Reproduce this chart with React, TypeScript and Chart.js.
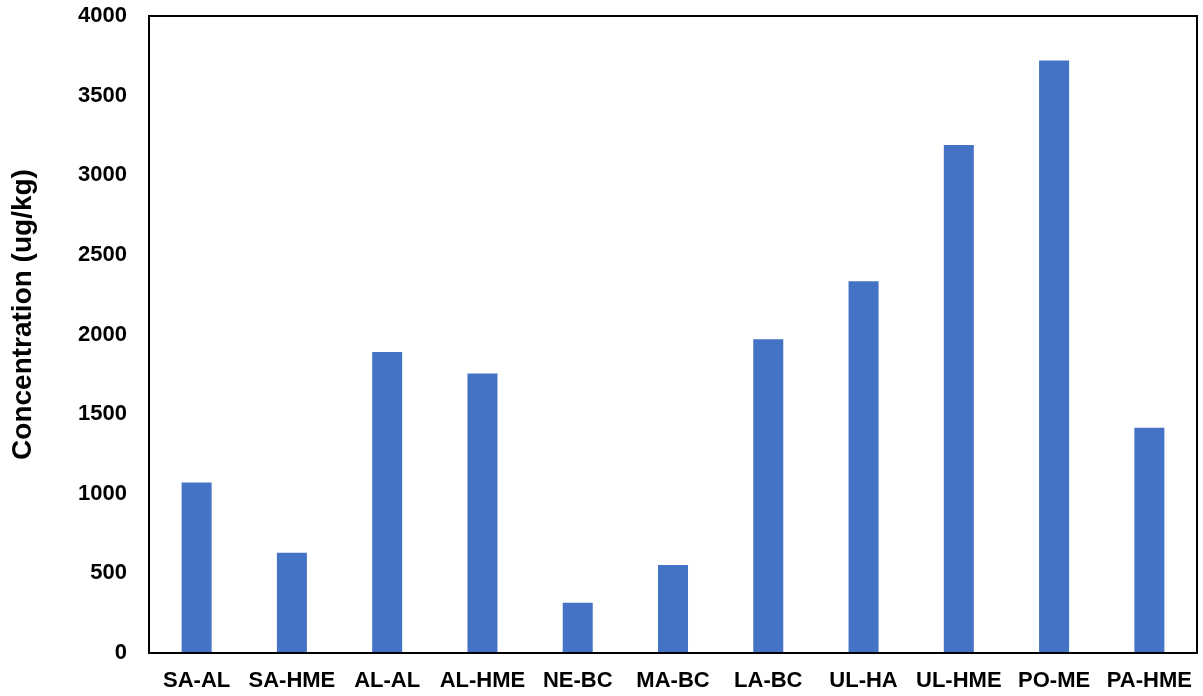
import React, { useEffect, useRef } from "react";
import { Chart, registerables } from "chart.js";

Chart.register(...registerables);

const categories = ["SA-AL", "SA-HME", "AL-AL", "AL-HME", "NE-BC", "MA-BC", "LA-BC", "UL-HA", "UL-HME", "PO-ME", "PA-HME"];
const concentration = [1070, 630, 1890, 1755, 315, 553, 1970, 2335, 3190, 3720, 1415];
const yTitle = "Concentration (ug/kg)";
const FONT = "'Liberation Sans', Arial, sans-serif";

const boxPlugin = {
  id: "box",
  afterDraw(chart: any) {
    const { ctx, chartArea } = chart;
    ctx.save();
    ctx.strokeStyle = "#000";
    ctx.lineWidth = 2;
    ctx.strokeRect(chartArea.left, chartArea.top, chartArea.right - chartArea.left, chartArea.bottom - chartArea.top);
    // y-axis title
    ctx.fillStyle = "#000";
    ctx.font = `bold 28px ${FONT}`;
    ctx.textAlign = "center";
    ctx.textBaseline = "middle";
    ctx.translate(23, chartArea.top + (chartArea.bottom - chartArea.top) / 2 - 20);
    ctx.rotate(-Math.PI / 2);
    ctx.fillText(yTitle, 0, 0);
    ctx.restore();
  },
};

export default function App() {
  const ref = useRef<HTMLCanvasElement>(null);
  useEffect(() => {
    if (!ref.current) return;
    const font = { family: FONT, size: 22, weight: "bold" as const };
    const chart = new Chart(ref.current, {
      type: "bar",
      data: {
        labels: categories,
        datasets: [
          {
            data: concentration,
            backgroundColor: "#4472C4",
            barPercentage: 0.315,
            categoryPercentage: 1,
          },
        ],
      },
      options: {
        animation: false,
        responsive: false,
        maintainAspectRatio: false,
        layout: { padding: { top: 16, right: 6, left: 0, bottom: 0 } },
        plugins: { legend: { display: false }, tooltip: { enabled: false } },
        scales: {
          x: {
            grid: { display: false, drawTicks: false },
            border: { display: false },
            ticks: { color: "#000", font, padding: 15, maxRotation: 0, autoSkip: false },
            afterFit(scale: any) {
              scale.height = 43;
              scale.paddingLeft = 0;
              scale.paddingRight = 0;
            },
          },
          y: {
            min: 0,
            max: 4000,
            grid: { display: false, drawTicks: false },
            border: { display: false },
            ticks: {
              stepSize: 500,
              color: "#000",
              font,
              padding: 22,
              callback: (v: any) => String(v),
            },
            afterFit(scale: any) {
              scale.width = 149;
              scale.paddingTop = 0;
              scale.paddingBottom = 0;
            },
          },
        },
      },
      plugins: [boxPlugin],
    });
    return () => chart.destroy();
  }, []);
  return (
    <div style={{ position: "fixed", left: 0, top: 0, width: 1203, height: 696, background: "#fff" }}>
      <canvas ref={ref} width={1203} height={696} />
    </div>
  );
}
